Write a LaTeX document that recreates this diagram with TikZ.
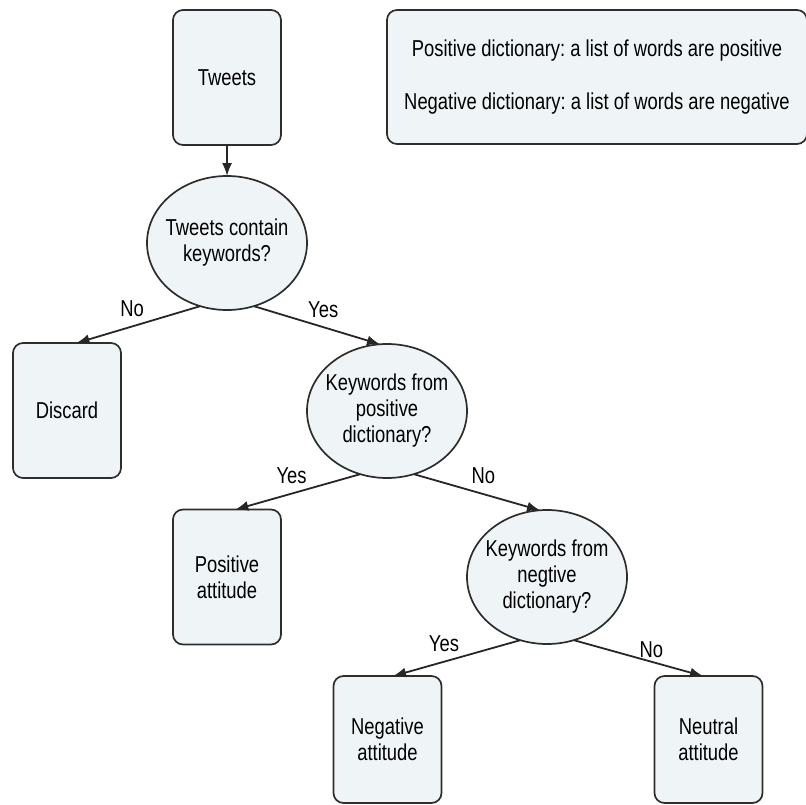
\documentclass[tikz,border=0pt]{standalone}
\usepackage{fontspec}
\setmainfont{Liberation Sans}[FakeStretch=0.8]
\frenchspacing
\usepackage{tikz,tkz-graph}
\usetikzlibrary{arrows.meta,shapes.geometric}
\definecolor{boxFill}{RGB}{239,245,247}
\definecolor{lineGray}{RGB}{45,45,45}
\tikzstyle{stepBox}=[shape = rectangle, rounded corners = 10pt, minimum width = 108pt, minimum height = 135pt, inner sep = 2pt, draw = lineGray, line width = 1.7pt, fill = boxFill, align = center, font = \fontsize{23}{26}\selectfont]
\tikzstyle{askBox}=[shape = ellipse, minimum width = 160pt, minimum height = 134pt, inner sep = -8pt, draw = lineGray, line width = 1.7pt, fill = boxFill, align = center, font = \fontsize{23}{26}\selectfont]
\tikzstyle{noteBox}=[stepBox, minimum width = 420pt, minimum height = 134pt]

\begin{document}
\begin{tikzpicture}[scale = 3.514598]
\tikzstyle{VertexStyle} = []
\tikzstyle{EdgeStyle} = [draw, -{Latex[length=13pt, width=10pt]}, line width = 1.8pt, draw = black!85]
\tikzstyle{LabelStyle} = [draw = none, fill = none, inner sep = 2pt, font = \fontsize{23}{26}\selectfont]
\useasboundingbox (0,0) rectangle (8.06,-8.05);
\Vertex[style = stepBox, x = 2.270, y = -0.775, L = {Tweets}]{tw}
\Vertex[style = noteBox, x = 5.970, y = -0.770, L = {Positive dictionary: a list of words are positive\\[27pt]Negative dictionary: a list of words are negative}]{note}
\Vertex[style = askBox, x = 2.270, y = -2.430, L = {Tweets contain\\keywords?}]{askA}
\Vertex[style = stepBox, x = 0.670, y = -4.105, L = {Discard}]{discard}
\Vertex[style = askBox, x = 3.870, y = -4.110, L = {Keywords from\\positive\\dictionary?}]{askB}
\Vertex[style = stepBox, x = 2.270, y = -5.770, L = {Positive\\attitude}]{pos}
\Vertex[style = askBox, x = 5.470, y = -5.770, L = {Keywords from\\negtive\\dictionary?}]{askC}
\Vertex[style = {stepBox, minimum height = 127pt}, x = 3.875, y = -7.395, L = {Negative\\attitude}]{neg}
\Vertex[style = {stepBox, minimum height = 127pt}, x = 7.085, y = -7.395, L = {Neutral\\attitude}]{neu}
\Edge(tw)(askA)
\Edge[label = No, labelstyle = {above = 7pt, pos = 0.55}](askA.247)(discard.82)
\Edge[label = Yes, labelstyle = {above = 7pt, pos = 0.55}](askA.293)(askB.96)
\Edge[label = Yes, labelstyle = {above = 7pt, pos = 0.55}](askB.247)(pos.83)
\Edge[label = No, labelstyle = {above = 7pt, pos = 0.55}](askB.293)(askC.96)
\Edge[label = Yes, labelstyle = {above = 7pt, pos = 0.6}](askC.247)(neg.85)
\Edge[label = No, labelstyle = {above = 1pt, pos = 0.6}](askC.293)(neu.95)
\end{tikzpicture}
\end{document}
